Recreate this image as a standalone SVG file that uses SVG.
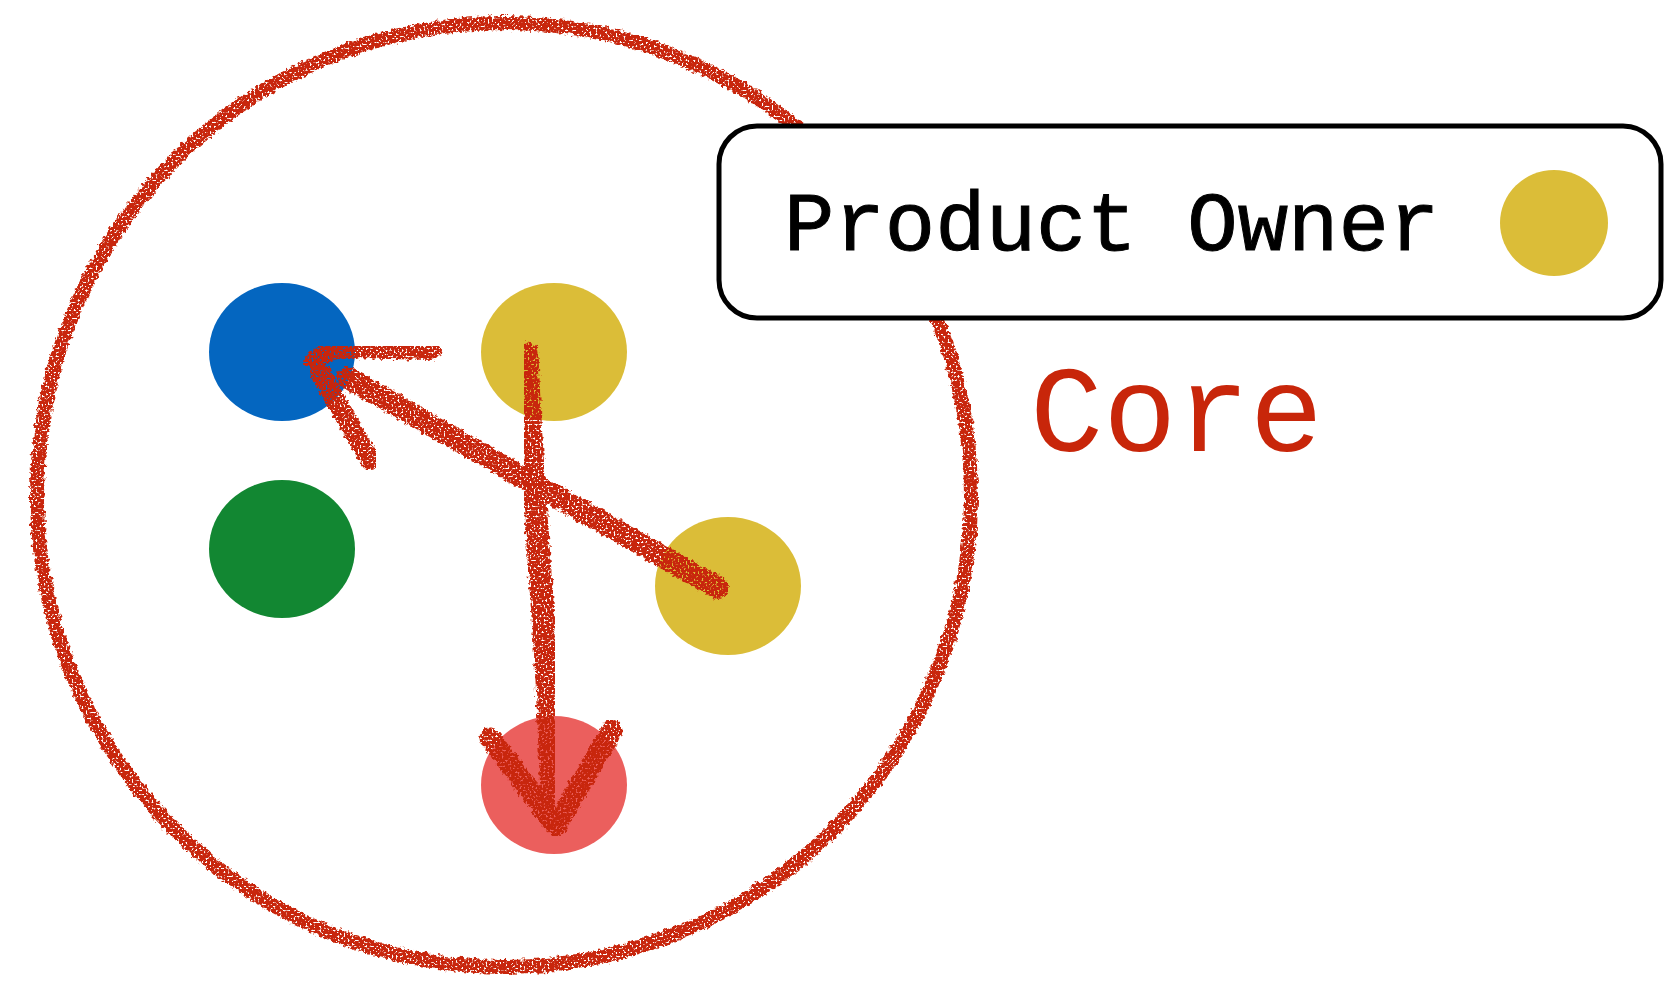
<svg xmlns="http://www.w3.org/2000/svg" width="1665" height="981" viewBox="0 0 1665 981">
<defs>
<style>
.chalk{fill:none;stroke:#c8260a;stroke-linecap:round;stroke-linejoin:round;filter:url(#chalk)}
.label{font-family:"Nimbus Mono PS","Courier New","Courier","Liberation Mono",monospace}
</style>
<filter id="chalk" x="-10%" y="-10%" width="120%" height="120%">
<feTurbulence type="fractalNoise" baseFrequency="0.25" numOctaves="2" seed="3" result="n"/>
<feDisplacementMap in="SourceGraphic" in2="n" scale="7" xChannelSelector="R" yChannelSelector="G" result="d"/>
<feTurbulence type="fractalNoise" baseFrequency="0.5" numOctaves="1" seed="7" result="n2"/>
<feColorMatrix in="n2" type="matrix" values="0 0 0 0 0  0 0 0 0 0  0 0 0 0 0  0 0 0 -8 5.6" result="m"/>
<feComposite in="d" in2="m" operator="in"/>
</filter>
</defs>
<rect width="1665" height="981" fill="#ffffff"/>
<g id="core-circle">
<ellipse cx="504" cy="495" rx="467" ry="472" class="chalk" stroke-width="14"/>
</g>
<g id="legend">
<rect x="719" y="126" width="942" height="192" rx="38" fill="#ffffff" stroke="#000000" stroke-width="5"/>
<text x="784" y="250" class="label" font-size="84" fill="#000000" stroke="#000000" stroke-width="1">Product Owner</text>
<ellipse cx="1554" cy="223" rx="54" ry="53" fill="#dbbd38"/>
</g>
<g id="core-label">
<text x="1030" y="451" class="label" font-size="122" fill="#c8260a">Core</text>
</g>
<g id="node-blue"><ellipse cx="282" cy="352" rx="73" ry="69" fill="#0466c0"/></g>
<g id="node-yellow-1"><ellipse cx="554" cy="352" rx="73" ry="69" fill="#dbbd38"/></g>
<g id="node-green"><ellipse cx="282" cy="549" rx="73" ry="69" fill="#128732"/></g>
<g id="node-yellow-2"><ellipse cx="728" cy="586" rx="73" ry="69" fill="#dbbd38"/></g>
<g id="node-red"><ellipse cx="554" cy="785" rx="73" ry="69" fill="#eb5f5d"/></g>
<g id="connectors">
<path class="chalk" stroke-width="22" d="M718 588 L348 378"/>
<path class="chalk" stroke-width="20" d="M313 364 Q328 346 350 348 L431 350"/>
<path class="chalk" stroke-width="20" d="M316 366 L370 460"/>
<path class="chalk" stroke-width="23" d="M527 354 C530 450 540 560 547 680 L552 796"/>
<path class="chalk" stroke-width="21" d="M490 738 L556 826 L612 730"/>
</g>
</svg>
